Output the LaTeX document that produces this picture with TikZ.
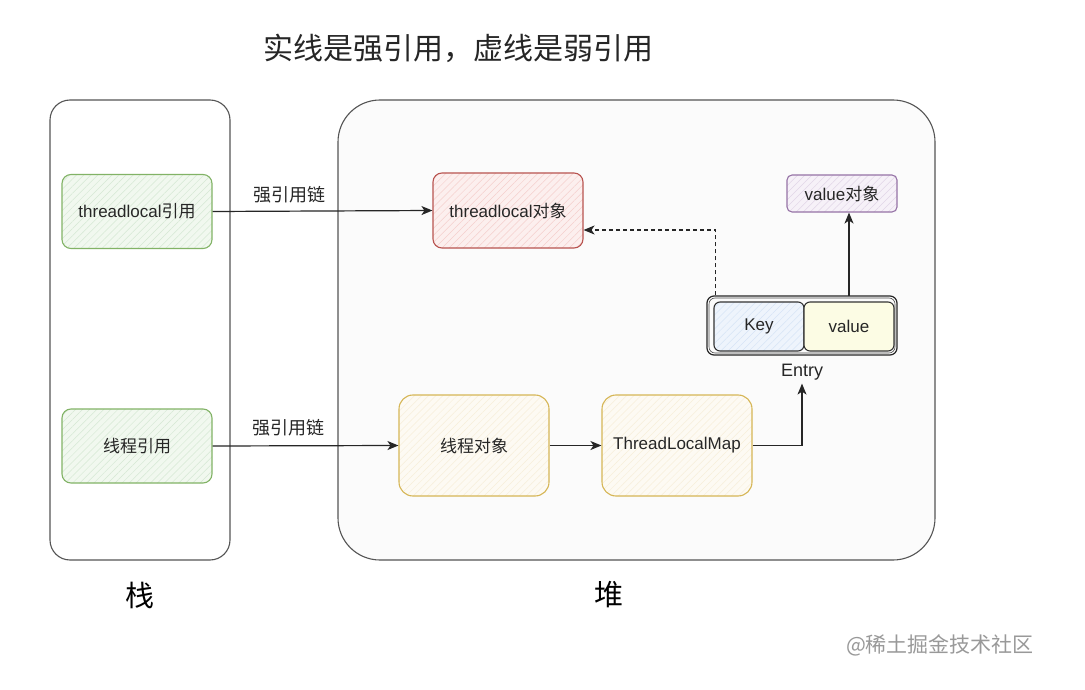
\documentclass[tikz,border=0pt]{standalone}
\usepackage{fontspec}
\setmainfont{Liberation Sans}
\newfontfamily\cjk{Noto Sans CJK SC}
\usetikzlibrary{arrows.meta,patterns.meta,calc}
\definecolor{gstroke}{HTML}{82B366}\definecolor{gfill}{HTML}{F1F8EF}\definecolor{ghatch}{HTML}{D5E8D4}
\definecolor{rstroke}{HTML}{B85450}\definecolor{rfill}{HTML}{FCEFEE}\definecolor{rhatch}{HTML}{F5CFCC}
\definecolor{pstroke}{HTML}{9673A6}\definecolor{pfill}{HTML}{F6F1F8}\definecolor{phatch}{HTML}{E1D5E7}
\definecolor{bfill}{HTML}{EEF4FC}\definecolor{bhatch}{HTML}{D6E4F6}
\definecolor{yfill}{HTML}{FCFCE4}
\definecolor{ostroke}{HTML}{D6B656}\definecolor{ofill}{HTML}{FDFAF3}\definecolor{ohatch}{HTML}{F7EEDA}
\definecolor{frame}{HTML}{555555}
\tikzset{
  box/.style={rounded corners=9pt, line width=1.1pt, align=center, font=\fontsize{17}{20}\selectfont, inner sep=0pt, text=black!85},
  hatched/.style n args={3}{box, draw=#1, preaction={fill=#2}, preaction={pattern={Lines[angle=45,distance=5pt,line width=0.5pt]}, pattern color=#3}},
  gbox/.style={hatched={gstroke}{gfill}{ghatch}, minimum width=150pt, minimum height=74pt},
  rbox/.style={hatched={rstroke}{rfill}{rhatch}, minimum width=150pt, minimum height=75pt},
  pbox/.style={hatched={pstroke}{pfill}{phatch}, minimum width=110pt, minimum height=37pt, rounded corners=5pt},
  obox/.style={hatched={ostroke}{ofill}{ohatch}, minimum width=150pt, minimum height=101pt, rounded corners=14pt},
  cell/.style={box, minimum width=90pt, minimum height=49pt, rounded corners=6pt},
  container/.style={draw=frame, line width=1.1pt},
  conn/.style={line width=1.2pt, draw=black!85, -{Stealth[length=11pt,width=9pt,inset=3pt]}},
  weak/.style={conn, dash pattern=on 4pt off 3pt},
  lbl/.style={font=\cjk\fontsize{18}{20}\selectfont, text=black!85},
}
\begin{document}
\begin{tikzpicture}[x=1pt,y=-1pt]
\useasboundingbox[fill=white] (0,0) rectangle (1085,690);
% title
\node[font=\cjk\fontsize{30}{34}\selectfont, text=black!85] (title) at (458,48) {实线是强引用，虚线是弱引用};
% containers
\draw[container, rounded corners=20pt] (50,100) rectangle (230,560);
\draw[container, fill=black!1.5, rounded corners=42pt] (338,100) rectangle (935,560);
\node[font=\cjk\fontsize{29}{30}\selectfont] (stacklbl) at (140,595) {栈};
\node[font=\cjk\fontsize{29}{30}\selectfont] (heaplbl) at (609,595) {堆};
% stack nodes
\node[gbox] (tlref) at (137,211.5) {threadlocal{\cjk 引用}};
\node[gbox] (thref) at (137,446) {{\cjk 线程引用}};
% heap nodes
\node[rbox] (tlobj) at (508,210.5) {threadlocal{\cjk 对象}};
\node[pbox] (vobj) at (842,193.5) {value{\cjk 对象}};
\draw[line width=1.2pt, draw=black!85, rounded corners=7pt] (707,296) rectangle (897,355);
\draw[line width=0.6pt, draw=black!70, rounded corners=6pt] (709,298) rectangle (895,353);
\node[hatched={black!80}{bfill}{bhatch}, cell] (key) at (759,326.5) {Key};
\node[cell, draw=black!80, fill=yfill] (val) at (849,326.5) {value};
\node[font=\fontsize{18}{20}\selectfont, text=black!85] (entry) at (802,372) {Entry};
\node[obox] (thobj) at (474,445.5) {{\cjk 线程对象}};
\node[obox] (tlmap) at (677,445.5) {ThreadLocalMap};
% connectors
\draw[conn] (tlref.east) -- (tlobj.west) node[lbl, pos=0.35, above=4pt] (l1) {强引用链};
\draw[conn] (thref.east) -- (thobj.west) node[lbl, pos=0.41, above=6pt] (l2) {强引用链};
\draw[conn] (thobj.east) -- (tlmap.west);
\draw[conn] (tlmap.east) -| (entry.south);
\draw[conn] (val.north |- 0,296) -- (val.north |- vobj.south);
\coordinate (kstart) at ($(key.north west)+(2,-6)$);
\draw[weak] (kstart) |- ($(tlobj.east)+(0,19.5)$);
% watermark
\node[font=\cjk\fontsize{21}{24}\selectfont, text=black!40] (wm) at (940,645) {@稀土掘金技术社区};
\end{tikzpicture}
\end{document}
